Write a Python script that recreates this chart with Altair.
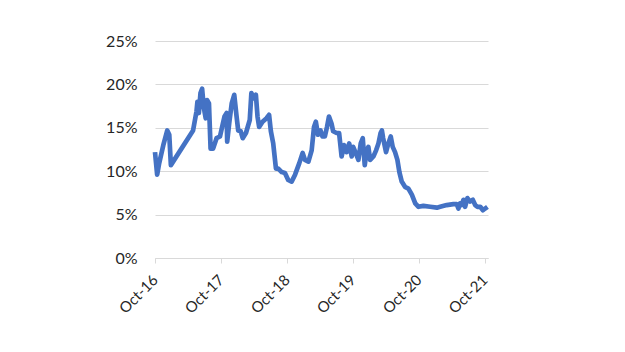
import altair as alt
import pandas as pd

dates = [
    "2016-10-01", "2016-10-13", "2016-10-24", "2016-11-16", "2016-12-08", "2016-12-19", "2016-12-28",
    "2017-04-30", "2017-05-19", "2017-05-24", "2017-06-01", "2017-06-10", "2017-06-19", "2017-06-28",
    "2017-07-09", "2017-07-16", "2017-07-27", "2017-08-05", "2017-08-19", "2017-09-07", "2017-09-26",
    "2017-10-10", "2017-10-21", "2017-11-02", "2017-11-05", "2017-11-16", "2017-11-30", "2017-12-14",
    "2017-12-27", "2018-01-05", "2018-01-19", "2018-01-30", "2018-02-17", "2018-03-10", "2018-03-19",
    "2018-04-02", "2018-04-13", "2018-04-22", "2018-05-01", "2018-05-20", "2018-06-11", "2018-06-25",
    "2018-07-05", "2018-07-18", "2018-08-02", "2018-08-15", "2018-09-03", "2018-09-21", "2018-10-09",
    "2018-10-28", "2018-11-16", "2018-12-09", "2018-12-28", "2019-01-10", "2019-01-29", "2019-02-16",
    "2019-03-01", "2019-03-11", "2019-03-23", "2019-04-06", "2019-04-17", "2019-04-30", "2019-05-12",
    "2019-05-23", "2019-06-06", "2019-06-15", "2019-07-04", "2019-07-18", "2019-08-01", "2019-08-14",
    "2019-08-29", "2019-09-12", "2019-09-26", "2019-10-04", "2019-10-18", "2019-11-02", "2019-11-15",
    "2019-11-26", "2019-12-07", "2019-12-18", "2019-12-27", "2020-01-06", "2020-01-24", "2020-02-08",
    "2020-02-21", "2020-03-04", "2020-03-11", "2020-03-18", "2020-04-03", "2020-04-16", "2020-04-29",
    "2020-05-10", "2020-05-23", "2020-06-05", "2020-06-16", "2020-06-29", "2020-07-17", "2020-08-05",
    "2020-08-24", "2020-09-12", "2020-09-30", "2020-10-27", "2020-12-04", "2021-01-10", "2021-01-28",
    "2021-03-05", "2021-04-11", "2021-04-30", "2021-05-09", "2021-05-18", "2021-05-27", "2021-06-06",
    "2021-06-15", "2021-06-28", "2021-07-13", "2021-07-28", "2021-08-10", "2021-08-23", "2021-09-07",
    "2021-09-22", "2021-10-04", "2021-10-17",
]
values = [
    12.2, 9.6, 10.9, 13.0, 14.7, 14.2, 10.7,
    14.7, 16.9, 18.0, 16.7, 19.0, 19.5, 17.4,
    16.1, 18.2, 17.8, 12.6, 12.6, 13.8, 14.0,
    15.3, 16.3, 16.7, 13.4, 15.5, 17.8, 18.8,
    16.3, 14.7, 14.6, 13.8, 14.4, 15.9, 19.0,
    18.4, 18.8, 16.3, 15.1, 15.7, 16.1, 16.5,
    14.6, 13.2, 10.3, 10.3, 9.9, 9.8, 9.0,
    8.8, 9.6, 10.9, 12.1, 11.3, 11.1, 12.4,
    15.1, 15.7, 14.2, 14.7, 14.0, 14.0, 15.1,
    16.3, 15.5, 14.6, 14.4, 14.4, 11.7, 13.0,
    12.2, 13.2, 11.7, 12.8, 12.1, 11.3, 13.2,
    13.8, 10.7, 12.4, 12.8, 11.3, 11.7, 12.4,
    13.2, 14.4, 14.7, 13.8, 12.2, 13.2, 14.0,
    12.8, 12.2, 11.3, 9.9, 8.8, 8.2, 8.0,
    7.3, 6.3, 5.9, 6.0, 5.9, 5.8, 5.9,
    6.1, 6.2, 6.2, 5.7, 6.3, 6.1, 6.7,
    5.9, 6.9, 6.5, 6.7, 6.1, 5.9, 5.9,
    5.5, 5.7, 5.9,
]
tick_years = [2016, 2017, 2018, 2019, 2020, 2021]
y_ticks = [0, 5, 10, 15, 20, 25]

df = pd.DataFrame({"date": dates, "value": values})

FONT = "Lato"

chart = alt.Chart(df).mark_line(color="#4472C4", strokeWidth=4.7, strokeJoin="round").encode(
    x=alt.X(
        "date:T",
        scale=alt.Scale(
            type="utc",
            domain=[alt.DateTime(year=2016, month=10, date=1, utc=True),
                    alt.DateTime(year=2021, month=10, date=20, utc=True)],
        ),
        axis=alt.Axis(
            title=None,
            values=[alt.DateTime(year=y, month=10, date=1, utc=True) for y in tick_years],
            labelExpr="utcFormat(datum.value, '%b-%y')",
            labelAngle=-45,
            labelAlign="right",
            labelBaseline="middle",
            labelFontSize=15,
            labelFont=FONT,
            labelColor="#262626",
            labelPadding=14,
            domainColor="#d9d9d9",
            tickColor="#d9d9d9",
            tickSize=5,
            grid=False,
        ),
    ),
    y=alt.Y(
        "value:Q",
        scale=alt.Scale(domain=[0, 25], nice=False),
        axis=alt.Axis(
            title=None,
            values=y_ticks,
            labelExpr="datum.value + '%'",
            labelFontSize=16,
            labelFont=FONT,
            labelColor="#262626",
            labelPadding=18,
            domain=False,
            ticks=False,
            grid=True,
            gridColor="#d9d9d9",
            gridWidth=1,
        ),
    ),
).properties(
    width=333,
    height=217,
    background="white",
    autosize=alt.AutoSizeParams(type="none"),
    padding={"left": 155, "top": 41, "right": 137, "bottom": 94},
).configure_view(stroke=None, strokeWidth=0)

chart.save("out.html", embed_options={"renderer": "svg", "actions": False})
